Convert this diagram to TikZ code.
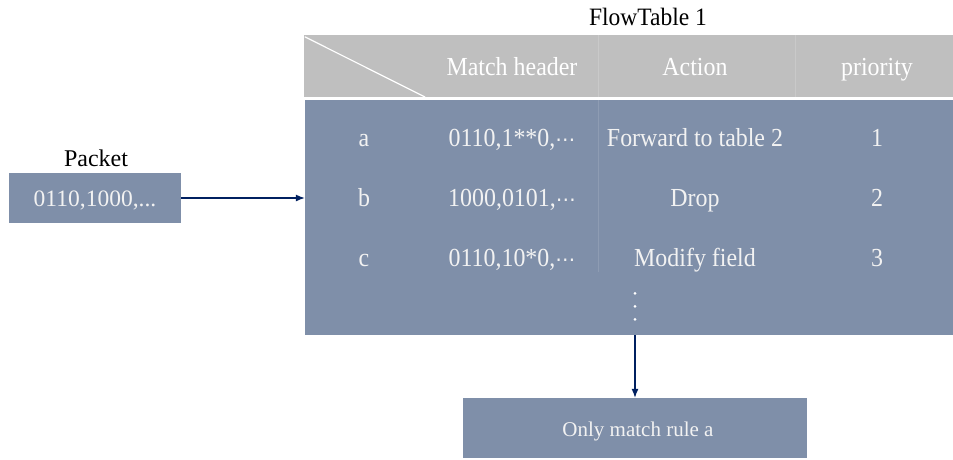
\documentclass[tikz,border=0pt]{standalone}
\usepackage{fontspec}
\setmainfont{Liberation Serif}
\newfontfamily\cellfont{Liberation Serif}[FakeStretch=0.92]
\newfontfamily\titlefont{Liberation Serif}[FakeStretch=0.94]
\newfontfamily\dejavu{DejaVu Sans}
\usetikzlibrary{arrows.meta}
\definecolor{bodyblue}{RGB}{127,143,169}
\definecolor{headgray}{RGB}{191,191,191}
\definecolor{navy}{RGB}{0,32,96}
\definecolor{lighttxt}{RGB}{242,242,242}
\newcommand{\mdots}{{\dejavu\fontsize{20}{24}\selectfont ⋯}}
\tikzset{
  box/.style={fill=bodyblue, draw=none, inner sep=0pt},
  celltxt/.style={text=lighttxt, font=\cellfont\fontsize{26}{30}\selectfont, inner sep=0pt, anchor=base},
  headtxt/.style={text=white, font=\cellfont\fontsize{26}{30}\selectfont, inner sep=0pt, anchor=base},
  plain/.style={text=black, inner sep=0pt, anchor=base},
  conn/.style={draw=navy, line width=1.1pt, -{Latex[length=9pt,width=7pt]}},
}
\begin{document}
\begin{tikzpicture}[x=1pt,y=-1pt]
\useasboundingbox (0,0) rectangle (953,459);
% header
\node[fill=headgray, inner sep=0pt, minimum width=649pt, minimum height=62pt] (head) at (628.5,66) {};
\draw[white, line width=1.2pt] (head.north west) ++(1,2) coordinate (d1) -- (425,97) coordinate (d2);
\draw[headgray!85!white, line width=0.6pt] (598,35) -- (598,97);
\draw[headgray!85!white, line width=0.6pt] (795,35) -- (795,97);
\node[headtxt] (hm) at (512,75) {Match header};
\node[headtxt] (ha) at (695,75) {Action};
\node[headtxt] (hp) at (877,75) {priority};
\node[plain, font=\titlefont\fontsize{25}{29}\selectfont] (title) at (648,25) {FlowTable 1};
% body
\node[box, minimum width=648pt, minimum height=235pt] (body) at (629,217.5) {};
\draw[bodyblue!88!white, line width=0.6pt] (598,100) -- (598,272);
\foreach \n/\y/\l/\m/\a/\p in {a/146/a/{0110,1**0,\mdots}/Forward to table 2/1,
                                b/206.5/b/{1000,0101,\mdots}/Drop/2,
                                c/266.5/c/{0110,10*0,\mdots}/Modify field/3}{
  \node[celltxt] (r\n) at (364,\y) {\l};
  \node[celltxt] (m\n) at (512,\y) {\m};
  \node[celltxt] (a\n) at (695,\y) {\a};
  \node[celltxt] (p\n) at (877,\y) {\p};
}
\foreach \y in {293.3,306.3,319.3}{
  \fill[white] (635,\y) circle (1.5pt);
}
% packet
\node[box, minimum width=172pt, minimum height=50pt, text=lighttxt, font=\fontsize{23.5}{27}\selectfont] (packet) at (95,198) {};
\node[text=lighttxt, font=\fontsize{23.5}{27}\selectfont, inner sep=0pt, anchor=base] (ptext) at (95,206) {0110,1000,...};
\node[plain, font=\fontsize{24}{28}\selectfont] (plabel) at (96,166.7) {Packet};
% result
\node[box, minimum width=344pt, minimum height=60pt] (result) at (635,428) {};
\node[text=lighttxt, font=\fontsize{21}{25}\selectfont, inner sep=0pt, anchor=base] (rtext) at (638,436.7) {Only match rule a};
% connectors
\draw[conn] (packet.east) -- (packet.east -| body.west);
\draw[conn] (result.north |- body.south) -- (result.north);
\end{tikzpicture}
\end{document}
